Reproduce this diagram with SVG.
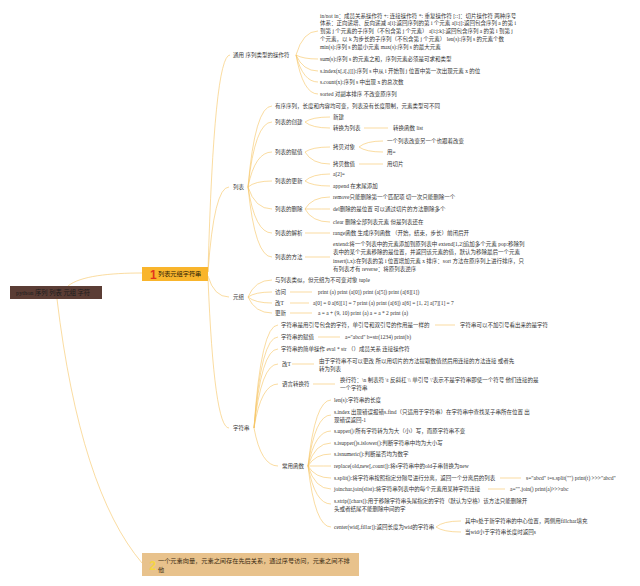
<svg xmlns="http://www.w3.org/2000/svg" width="640" height="586" viewBox="0 0 640 586">
<style>
.t{font-family:"Liberation Serif","Noto Sans CJK SC",serif;font-size:5.5px;fill:#333}
.c{fill:none;stroke:#f6c462;stroke-width:0.6}
.r{font-family:"Liberation Serif","Noto Sans CJK SC",serif;font-size:6.3px;fill:#1c1c1c}
.m{font-family:"Liberation Serif","Noto Sans CJK SC",serif;font-size:6.2px;fill:#3a2a10}
</style>
<rect width="640" height="586" fill="#ffffff"/>
<g id="connectors">
<path class="c" d="M68,286 C80,276 110,273 142,273"/>
<path class="c" d="M57,299 Q80,490 142,563"/>
<path class="c" d="M208,272 Q214,55 230,55"/>
<path class="c" d="M208,272 Q214,187 229,187"/>
<path class="c" d="M208,276 Q214,297 229,297"/>
<path class="c" d="M208,278 Q214,428 229,428"/>
<path class="c" d="M296,55 Q303,31 318,31"/>
<path class="c" d="M296,55 Q303,59 318,59"/>
<path class="c" d="M296,55 Q303,71 318,71"/>
<path class="c" d="M296,55 Q303,82 318,82"/>
<path class="c" d="M296,55 Q303,94 318,94"/>
<path class="c" d="M248,187 Q255,106 272,106"/>
<path class="c" d="M248,187 Q255,122 272,122"/>
<path class="c" d="M248,187 Q255,152 272,152"/>
<path class="c" d="M248,187 Q255,181 272,181"/>
<path class="c" d="M248,187 Q255,209 272,209"/>
<path class="c" d="M248,187 Q255,233 272,233"/>
<path class="c" d="M248,187 Q255,257 272,257"/>
<path class="c" d="M305,122 Q312,117 330,117"/>
<path class="c" d="M305,122 Q312,128 330,128"/>
<path class="c" d="M364,128 L388,128"/>
<path class="c" d="M305,152 Q312,147 330,147"/>
<path class="c" d="M305,152 Q312,164 330,164"/>
<path class="c" d="M359,147 Q366,141 383,141"/>
<path class="c" d="M359,147 Q366,152 383,152"/>
<path class="c" d="M359,164 L383,164"/>
<path class="c" d="M305,181 Q312,174 330,174"/>
<path class="c" d="M305,181 Q312,186 330,186"/>
<path class="c" d="M305,209 Q312,197 330,197"/>
<path class="c" d="M305,209 Q312,209 330,209"/>
<path class="c" d="M305,209 Q312,222 330,222"/>
<path class="c" d="M305,233 L330,233"/>
<path class="c" d="M305,257 L330,257"/>
<path class="c" d="M248,297 Q255,280 272,280"/>
<path class="c" d="M248,297 Q255,292 272,292"/>
<path class="c" d="M248,297 Q255,303 272,303"/>
<path class="c" d="M248,297 Q255,313 272,313"/>
<path class="c" d="M290,292 L312,292"/>
<path class="c" d="M290,303 L309,303"/>
<path class="c" d="M290,313 L312,313"/>
<path class="c" d="M254,428 Q261,325 278,325"/>
<path class="c" d="M254,428 Q261,337 278,337"/>
<path class="c" d="M254,428 Q261,349 278,349"/>
<path class="c" d="M254,428 Q261,364 278,364"/>
<path class="c" d="M254,428 Q261,384 278,384"/>
<path class="c" d="M254,428 Q261,466 278,466"/>
<path class="c" d="M435,325 L455,325"/>
<path class="c" d="M318,337 L340,337"/>
<path class="c" d="M292,364 L314,364"/>
<path class="c" d="M313,384 L335,384"/>
<path class="c" d="M308,466 Q315,400 331,400"/>
<path class="c" d="M308,466 Q315,415 331,415"/>
<path class="c" d="M308,466 Q315,431 331,431"/>
<path class="c" d="M308,466 Q315,443 331,443"/>
<path class="c" d="M308,466 Q315,454 331,454"/>
<path class="c" d="M308,466 Q315,466 331,466"/>
<path class="c" d="M308,466 Q315,478 331,478"/>
<path class="c" d="M308,466 Q315,489 331,489"/>
<path class="c" d="M308,466 Q315,504 331,504"/>
<path class="c" d="M308,466 Q315,527 331,527"/>
<path class="c" d="M500,478 L521,478"/>
<path class="c" d="M488,489 L505,489"/>
<path class="c" d="M436,527 Q443,521 461,521"/>
<path class="c" d="M436,527 Q443,532 461,532"/>
</g>

<g id="root">
<rect x="10" y="286" width="92" height="13" fill="#5b3d35"/>
<text class="r" x="16" y="294.8">python 序列 列表 元组 字符</text>
</g>
<g id="main1">
<rect x="142" y="267" width="66" height="14" fill="#f9b52c"/>
<text x="150" y="278.6" font-family="Liberation Sans,sans-serif" font-size="12" font-weight="bold" fill="#e3331d">1</text>
<text class="m" x="158" y="276.3" font-size="6.2px" style="fill:#2a1a05">列表元组字符串</text>
</g>
<g id="main2">
<rect x="142" y="553" width="217" height="23" fill="#e8c28c"/>
<text x="149.5" y="569.5" font-family="Liberation Sans,sans-serif" font-size="12" font-weight="bold" fill="#f6d642">2</text>
<text class="m" x="158" y="563.3">一个元素向量，元素之间存在先后关系，通过序号访问，元素之间不排</text>
<text class="m" x="158" y="572.3">他</text>
</g>

<g id="general">
<text class="t" x="233" y="57">通用 序列类型的操作符</text>
</g>
<g id="general-ops">
<text class="t" x="320" y="17.7">in/not in：成员关系操作符 +: 连接操作符 *: 重复操作符 [::]：切片操作符 两种序号</text>
<text class="t" x="320" y="25.4">体系：正向递增、反向递减 a[i]:返回序列的第 i 个元素 a[i:j]:返回包含序列 a 的第 i</text>
<text class="t" x="320" y="33.2">到第 j 个元素的子序列（不包含第 j 个元素） a[i:j:k]:返回包含序列 a 的第 i 到第 j</text>
<text class="t" x="320" y="40.9">个元素，以 k 为步长的子序列（不包含第 j 个元素） len(s):序列 s 的元素个数</text>
<text class="t" x="320" y="48.7">min(s):序列 s 的最小元素 max(s):序列 s 的最大元素</text>
</g>
<g id="g-sum"><text class="t" x="320" y="61">sum(s):序列 s 的元素之和，序列元素必须是可求和类型</text></g>
<g id="g-index"><text class="t" x="320" y="73">s.index(x[,i[,j]]):序列 s 中从 i 开始到 j 位置中第一次出现元素 x 的位</text></g>
<g id="g-count"><text class="t" x="320" y="84">s.count(x):序列 s 中出现 x 的总次数</text></g>
<g id="g-sorted"><text class="t" x="320" y="96">sorted 对副本排序 不改变原序列</text></g>

<g id="list"><text class="t" x="233" y="189">列表</text></g>
<g id="l-desc"><text class="t" x="275" y="108">有序序列，长度和内容均可变，列表没有长度限制，元素类型可不同</text></g>
<g id="l-create"><text class="t" x="275" y="124">列表的创建</text></g>
<g id="l-new"><text class="t" x="333" y="119">新建</text></g>
<g id="l-convert"><text class="t" x="333" y="130">转换为列表</text></g>
<g id="l-listfn"><text class="t" x="393" y="130">转换函数 list</text></g>
<g id="l-assign"><text class="t" x="275" y="154">列表的赋值</text></g>
<g id="l-copyobj"><text class="t" x="333" y="149">拷贝对象</text></g>
<g id="l-copyobj1"><text class="t" x="387" y="143">一个列表改变另一个也跟着改变</text></g>
<g id="l-copyobj2"><text class="t" x="387" y="154">用=</text></g>
<g id="l-copyval"><text class="t" x="333" y="166">拷贝数值</text></g>
<g id="l-slice"><text class="t" x="387" y="166">用切片</text></g>
<g id="l-update"><text class="t" x="275" y="183">列表的更新</text></g>
<g id="l-a2"><text class="t" x="333" y="176">a[2]=</text></g>
<g id="l-append"><text class="t" x="333" y="188">append 在末尾添加</text></g>
<g id="l-delete"><text class="t" x="275" y="211">列表的删除</text></g>
<g id="l-remove"><text class="t" x="333" y="199">remove只能删除第一个匹配项 切一次只能删除一个</text></g>
<g id="l-del"><text class="t" x="333" y="211">del删除的是位置 可以通过切片的方法删除多个</text></g>
<g id="l-clear"><text class="t" x="333" y="224">clear 删除全部列表元素 但是列表还在</text></g>
<g id="l-parse"><text class="t" x="275" y="235">列表的解析</text></g>
<g id="l-range"><text class="t" x="333" y="235">range函数 生成序列函数 （开始，结束，步长）前闭后开</text></g>
<g id="l-method"><text class="t" x="275" y="259">列表的方法</text></g>
<g id="l-methods">
<text class="t" x="333" y="246">extend:将一个列表中的元素添加到原列表中 extend[1,2]追加多个元素 pop:移除列</text>
<text class="t" x="333" y="254">表中的某个元素移除的是位置，并返回该元素的值，默认为移除最后一个元素</text>
<text class="t" x="333" y="263">insert(i,x):在列表的第 i 位置增加元素 x 排序：sort 方法在原序列上进行排序，只</text>
<text class="t" x="333" y="271">有列表才有 reverse：将原列表逆序</text>
</g>

<g id="tuple"><text class="t" x="233" y="299">元组</text></g>
<g id="t-desc"><text class="t" x="275" y="282">与列表类似，但元组为不可变对象 tuple</text></g>
<g id="t-access"><text class="t" x="275" y="294">访问</text></g>
<g id="t-access1"><text class="t" x="318" y="294">print (a) print (a[0]) print (a[5]) print (a[6][1])</text></g>
<g id="t-modify"><text class="t" x="275" y="305">改T</text></g>
<g id="t-modify1"><text class="t" x="313" y="305">a[0] = 0 a[6][1] = 7 print (a) print (a[6]) a[6] = [1, 2] a[7][1] = 7</text></g>
<g id="t-update"><text class="t" x="275" y="315">更新</text></g>
<g id="t-update1"><text class="t" x="318" y="315">a = a + (9, 10) print (a) a = a * 2 print (a)</text></g>

<g id="string"><text class="t" x="233" y="430">字符串</text></g>
<g id="s-def"><text class="t" x="281" y="327">字符串是用引号包含的字符，单引号和双引号的作用是一样的</text></g>
<g id="s-def1"><text class="t" x="460" y="327">字符串可以不加引号看出来的是字符</text></g>
<g id="s-assign"><text class="t" x="281" y="339">字符串的赋值</text></g>
<g id="s-assign1"><text class="t" x="345" y="339">a="abcd" b=str(1234) print(b)</text></g>
<g id="s-ops"><text class="t" x="281" y="351">字符串的简单操作 eval * str （）成员关系 连接操作符</text></g>
<g id="s-modify"><text class="t" x="282" y="366">改T</text></g>
<g id="s-modify1">
<text class="t" x="319" y="363">由于字符串不可以更改 所以用切片的方法提取数值然后用连接的方法连接 或者先</text>
<text class="t" x="319" y="370.5">转为列表</text>
</g>
<g id="s-escape"><text class="t" x="282" y="386">语言转换符</text></g>
<g id="s-escape1">
<text class="t" x="340" y="382">换行符：\n 制表符 \t 反斜杠 \\ 单引号 \'表示不是字符串即使一个符号 他们连接的是</text>
<text class="t" x="340" y="390">一个字符串</text>
</g>
<g id="s-funcs"><text class="t" x="282" y="468">常用函数</text></g>
<g id="f-len"><text class="t" x="334" y="402">len(s):字符串的长度</text></g>
<g id="f-index">
<text class="t" x="334" y="414">s.index 出现错误报错s.find（只适用于字符串）在字符串中查找某子串所在位置 出</text>
<text class="t" x="334" y="421.5">现错误返回-1</text>
</g>
<g id="f-upper"><text class="t" x="334" y="433">s.upper()/所有字符转为为大（小）写，而原字符串不变</text></g>
<g id="f-isupper"><text class="t" x="334" y="445">s.isupper()s.islower():判断字符串中均为大小写</text></g>
<g id="f-isnumeric"><text class="t" x="334" y="456">s.isnumeric():判断是否均为数字</text></g>
<g id="f-replace"><text class="t" x="334" y="468">replace(old,new[,count]):将s字符串中的old子串替换为new</text></g>
<g id="f-split"><text class="t" x="334" y="480">s.split():将字符串按照指定分隔号进行分离，返回一个分离后的列表</text></g>
<g id="f-split1"><text class="t" x="526" y="480">s="abcd" t=s.split("") print(t) &gt;&gt;&gt;"abcd"</text></g>
<g id="f-join"><text class="t" x="334" y="491">joinchar.join(slist):将字符串列表中的每个元素用某种字符连接</text></g>
<g id="f-join1"><text class="t" x="510" y="491">a="".join() print(a)&gt;&gt;&gt;abc</text></g>
<g id="f-strip">
<text class="t" x="334" y="503">s.strip([chars]):用于移除字符串头尾指定的字符（默认为空格）该方法只能删除开</text>
<text class="t" x="334" y="510.5">头或者结尾不能删除中间的字</text>
</g>
<g id="f-center"><text class="t" x="334" y="529">center(wid[,fillar]):返回长度为wid的字符串</text></g>
<g id="f-center1"><text class="t" x="465" y="523">其中s处于新字符串的中心位置，两侧用fillchar填充</text></g>
<g id="f-center2"><text class="t" x="465" y="534">当wid小于字符串长度时返回s</text></g>
</svg>
